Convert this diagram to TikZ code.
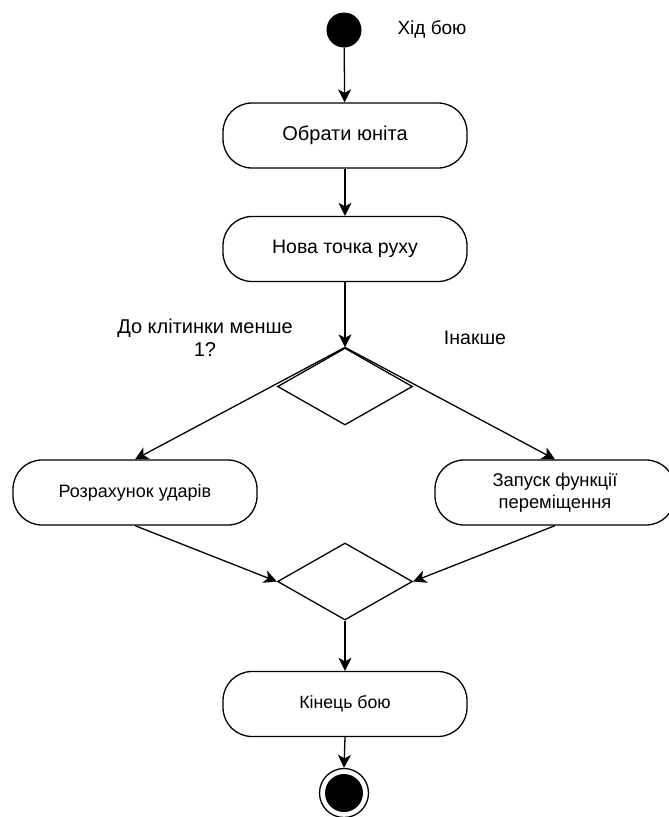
\documentclass[tikz,border=0pt]{standalone}
\usepackage{fontspec}
\setmainfont{Liberation Sans}
\usetikzlibrary{shapes.geometric,arrows.meta}

\newcommand{\fsz}[1]{\fontsize{#1}{#1}\selectfont}

\begin{document}
\begin{tikzpicture}[x=1pt,y=-1pt,
  action/.style={draw, line width=1.3pt, rounded corners=29pt, fill=white,
    minimum height=65pt, inner sep=0pt, align=center},
  decision/.style={draw, diamond, line width=1.3pt, inner sep=0pt,
    minimum width=135pt, minimum height=77pt},
  flow/.style={line width=1.3pt, -{Stealth[length=13pt,width=13pt,inset=3.5pt]}},
  lbl/.style={align=center, inner sep=0pt}]
\useasboundingbox (0,0) rectangle (669,817);

% start and end markers
\node[circle, fill=black, minimum size=35pt, inner sep=0pt] (start) at (344,30) {};
\node[lbl, font=\fsz{19}] (startlbl) at (432,29) {Хід бою};

\node[circle, draw, line width=1.3pt, minimum size=49pt, inner sep=0pt] (finish) at (344,793) {};
\node[circle, fill=black, minimum size=38pt, inner sep=0pt] (finishdot) at (344,793) {};

% actions
\node[action, minimum width=244pt, font=\fsz{20}] (pick) at (345,135.5) {Обрати юніта};
\node[action, minimum width=244pt, font=\fsz{19.5}] (point) at (345,249) {Нова точка руху};
\node[action, minimum width=244pt, font=\fsz{18}] (hits) at (135,492.5) {Розрахунок ударів};
\node[action, minimum width=240pt, font=\fsz{18.4}] (move) at (555,492.5) {Запуск функції\\[4pt]переміщення};
\node[action, minimum width=244pt, font=\fsz{17.7}] (over) at (345,704) {Кінець бою};

% decisions
\node[decision] (choice) at (345,386.5) {};
\node[decision] (merge) at (345,581.5) {};

% guard labels
\node[lbl, font=\fsz{20}] (yes) at (205,338) {До клітинки менше\\[3pt]1?};
\node[lbl, font=\fsz{19.5}] (no) at (475,338) {Інакше};

% connectors
\draw[flow] (start) -- (pick);
\draw[flow] (pick) -- (point);
\draw[flow] (point) -- (choice.north);
\draw[flow] (choice.north) -- (hits.north);
\draw[flow] (choice.north) -- (move.north);
\draw[flow] (hits.south) -- (merge.west);
\draw[flow] (move.south) -- (merge.east);
\draw[flow] (merge.south) -- (over.north);
\draw[flow] (over.south) -- (finish.north);
\end{tikzpicture}
\end{document}
